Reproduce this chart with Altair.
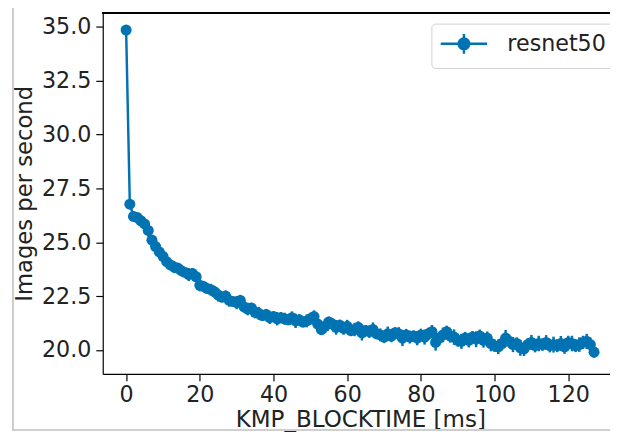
import altair as alt
import pandas as pd

# KMP_BLOCKTIME values (ms)
blocktime = list(range(128))

# Images per second
ips = [
    34.85, 26.77, 26.20, 26.15, 26.00, 25.85, 25.55, 25.10, 24.80, 24.55,
    24.35, 24.10, 23.95, 23.85, 23.80, 23.68, 23.60, 23.50, 23.55, 23.40,
    23.00, 22.95, 22.85, 22.80, 22.70, 22.55, 22.45, 22.50, 22.30, 22.25,
    22.20, 22.30, 22.00, 21.90, 21.95, 21.75, 21.70, 21.60, 21.65, 21.50,
    21.55, 21.45, 21.50, 21.45, 21.40, 21.50, 21.35, 21.40, 21.30, 21.35,
    21.45, 21.55, 21.20, 20.95, 21.10, 21.30, 21.20, 21.05, 21.15, 21.00,
    21.10, 20.90, 20.95, 21.05, 20.80, 20.90, 20.85, 20.95, 20.75, 20.70,
    20.60, 20.75, 20.65, 20.80, 20.75, 20.55, 20.70, 20.60, 20.65, 20.55,
    20.70, 20.60, 20.75, 20.85, 20.35, 20.55, 20.70, 20.85, 20.65, 20.60,
    20.45, 20.40, 20.55, 20.45, 20.60, 20.50, 20.65, 20.45, 20.55, 20.30,
    20.20, 20.15, 20.30, 20.55, 20.40, 20.25, 20.30, 20.10, 20.05, 20.25,
    20.35, 20.20, 20.30, 20.25, 20.35, 20.20, 20.25, 20.20, 20.30, 20.15,
    20.35, 20.30, 20.20, 20.25, 20.35, 20.40, 20.25, 19.90,
]

# Standard deviation (error bar half-length)
err = [
    0.04, 0.12, 0.22, 0.18, 0.26, 0.20, 0.28, 0.22, 0.24, 0.27,
    0.21, 0.25, 0.22, 0.28, 0.24, 0.26, 0.22, 0.30, 0.25, 0.23,
    0.28, 0.26, 0.22, 0.27, 0.25, 0.30, 0.24, 0.26, 0.29, 0.22,
    0.31, 0.26, 0.25, 0.29, 0.24, 0.28, 0.30, 0.25, 0.26, 0.29,
    0.24, 0.31, 0.26, 0.28, 0.25, 0.29, 0.33, 0.26, 0.25, 0.30,
    0.28, 0.29, 0.36, 0.26, 0.31, 0.25, 0.28, 0.34, 0.26, 0.29,
    0.30, 0.26, 0.31, 0.28, 0.36, 0.26, 0.29, 0.33, 0.25, 0.30,
    0.28, 0.34, 0.29, 0.26, 0.31, 0.37, 0.28, 0.30, 0.26, 0.33,
    0.29, 0.35, 0.28, 0.31, 0.38, 0.29, 0.34, 0.28, 0.31, 0.36,
    0.30, 0.35, 0.29, 0.33, 0.28, 0.37, 0.30, 0.34, 0.31, 0.36,
    0.29, 0.34, 0.31, 0.38, 0.30, 0.35, 0.29, 0.37, 0.33, 0.30,
    0.35, 0.31, 0.36, 0.29, 0.34, 0.31, 0.37, 0.30, 0.35, 0.33,
    0.31, 0.36, 0.30, 0.34, 0.31, 0.35, 0.33, 0.26,
]

series = "resnet50"
blue = "#0173B2"

df = pd.DataFrame({
    "x": blocktime,
    "y": ips,
    "lo": [a - b for a, b in zip(ips, err)],
    "hi": [a + b for a, b in zip(ips, err)],
    "s": [series] * len(blocktime),
})

W, H = 514, 366
FONT = "DejaVu Sans"
FS = 22.5

xs = alt.Scale(domain=[-6.35, 131.33], nice=False, zero=False)
ys = alt.Scale(domain=[18.887, 35.655], nice=False, zero=False)

xaxis = alt.Axis(values=[0, 20, 40, 60, 80, 100, 120], title="KMP_BLOCKTIME [ms]",
                 grid=False, tickSize=7, labelPadding=3, titlePadding=3,
                 titleFontSize=23.3, titleX=261, titleAlign="center")
yaxis = alt.Axis(values=[20, 22.5, 25, 27.5, 30, 32.5, 35], format=".1f",
                 title="Images per second", grid=False, tickSize=7,
                 labelPadding=5, titlePadding=5, titleFontSize=23)

base = alt.Chart(df)

bars = base.mark_rule(color=blue, strokeWidth=2.5).encode(
    x=alt.X("x:Q", scale=xs, axis=xaxis),
    y=alt.Y("lo:Q", scale=ys, axis=yaxis),
    y2="hi:Q",
)
line = base.mark_line(color=blue, strokeWidth=2.5).encode(
    x=alt.X("x:Q", scale=xs),
    y=alt.Y("y:Q", scale=ys),
)
# legend glyph: horizontal line, vertical error bar and a dot (unit = 10px)
sym = ("M-2.35,0H2.35M0,-1.0V1.0"
       "M0.55,0A0.55,0.55 0 1,1 -0.55,0A0.55,0.55 0 1,1 0.55,0Z")
pts = base.mark_point(filled=True, size=125, opacity=1, shape="circle").encode(
    x=alt.X("x:Q", scale=xs),
    y=alt.Y("y:Q", scale=ys),
    color=alt.Color("s:N", scale=alt.Scale(range=[blue]),
                    legend=alt.Legend(title=None, orient="none", legendX=333, legendY=11,
                                      symbolType=sym, symbolSize=400, symbolOffset=12.5,
                                      symbolStrokeWidth=2.5, symbolStrokeColor=blue,
                                      symbolFillColor=blue,
                                      labelFontSize=FS, labelFont=FONT, labelColor="#222",
                                      labelOffset=32.5, padding=9,
                                      strokeColor="#d0d0d0", fillColor="white",
                                      cornerRadius=4)),
)

topspine = alt.Chart(df).mark_rule(color="black", strokeWidth=1.2).encode(
    x=alt.value(0), x2=alt.value(W), y=alt.value(0))
frame_v = alt.Chart(df).mark_rule(color="#cfcfcf", strokeWidth=1).encode(
    x=alt.value(-91), y=alt.value(-10), y2=alt.value(423))
frame_h = alt.Chart(df).mark_rule(color="#cfcfcf", strokeWidth=1).encode(
    x=alt.value(-91), x2=alt.value(W), y=alt.value(423))

chart = alt.layer(frame_v, frame_h, bars, line, pts, topspine).properties(
    width=W, height=H,
    autosize=alt.AutoSizeParams(type="none"),
    padding={"left": 96, "top": 2, "right": 0, "bottom": 57},
).configure_view(stroke=None).configure_axis(
    labelFont=FONT, titleFont=FONT, labelFontSize=FS,
    labelColor="#222", titleColor="#222", titleFontWeight="normal",
    domainColor="black", tickColor="black", domainWidth=1.2, tickWidth=1.2,
)

chart.save("out.html", embed_options={"renderer": "svg", "actions": False})
